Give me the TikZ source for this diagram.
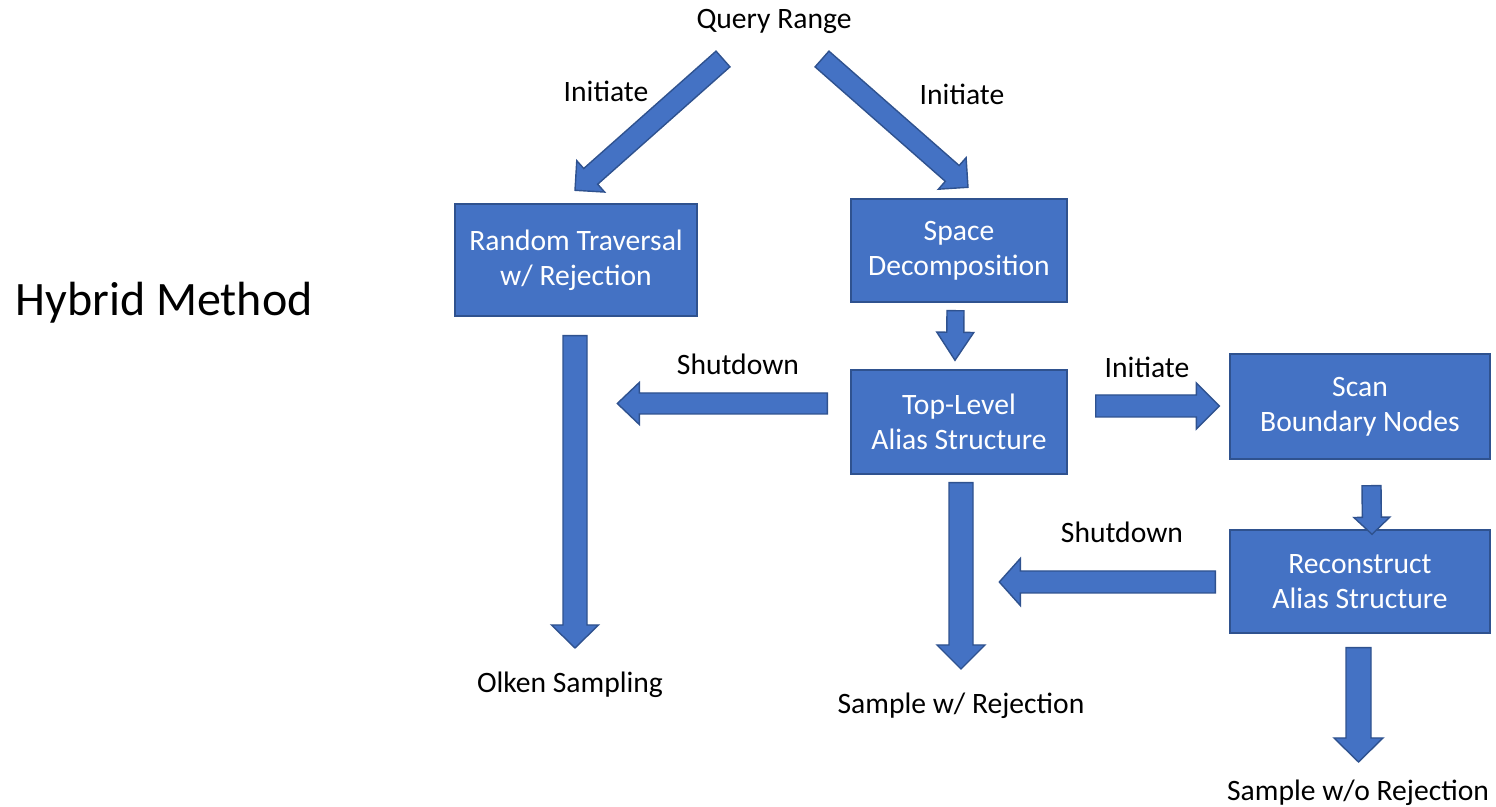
\documentclass[tikz,border=0pt]{standalone}
\usepackage{fontspec}
\setmainfont{Carlito}
\usetikzlibrary{calc}
\definecolor{boxblue}{HTML}{4472C4}
\definecolor{boxedge}{HTML}{2F528F}
\newcommand\txtsize{\fontsize{14.8}{17.5}\selectfont}
\begin{document}
\begin{tikzpicture}[x=.5pt, y=-.5pt, font=\txtsize, line width=.7pt,
    box/.style={draw=boxedge, fill=boxblue, text=white, align=center, inner sep=0pt},
    lbl/.style={inner sep=0pt},
    fat/.style n args={3}{draw=boxedge, fill=boxblue, line join=miter,
      to path={($(\tikztostart)!#1!90:(\tikztotarget)$)
        -- ($($(\tikztotarget)!#3!(\tikztostart)$)!#1!90:(\tikztotarget)$)
        -- ($($(\tikztotarget)!#3!(\tikztostart)$)!#2!90:(\tikztotarget)$)
        -- (\tikztotarget)
        -- ($($(\tikztotarget)!#3!(\tikztostart)$)!#2!-90:(\tikztotarget)$)
        -- ($($(\tikztotarget)!#3!(\tikztostart)$)!#1!-90:(\tikztotarget)$)
        -- ($(\tikztostart)!#1!-90:(\tikztotarget)$) -- cycle}}]
  \useasboundingbox (0,0) rectangle (1496,807);
  % titles and free labels
  \node[lbl, font=\fontsize{24}{28}\selectfont] (hybrid) at (164,303) {Hybrid Method};
  \node[lbl] (query) at (774,21) {Query Range};
  \node[lbl] (ini1) at (606,91) {Initiate};
  \node[lbl] (ini2) at (962,94) {Initiate};
  \node[lbl] (shut1) at (738,364) {Shutdown};
  \node[lbl] (ini3) at (1147,367) {Initiate};
  \node[lbl] (shut2) at (1122,532) {Shutdown};
  \node[lbl] (olken) at (570,685) {Olken Sampling};
  \node[lbl] (samprej) at (961,706) {Sample w/ Rejection};
  \node[lbl] (sampnorej) at (1358,793) {Sample w/o Rejection};
  % boxes
  \node[box, minimum width=121pt, minimum height=56pt] (rand) at (576,260) {Random Traversal\\w/ Rejection};
  \node[box, minimum width=108pt, minimum height=51.5pt] (space) at (959,250.5) {Space\\Decomposition};
  \node[box, minimum width=108pt, minimum height=52pt] (top) at (959,422) {Top-Level\\Alias Structure};
  \node[box, minimum width=130pt, minimum height=52.5pt] (scan) at (1360,406.5) {Scan\\Boundary Nodes};
  \node[box, minimum width=130pt, minimum height=51.5pt] (recon) at (1360,581.5) {Reconstruct\\Alias Structure};
  % block arrows
  \draw[fat={5.25pt}{10.5pt}{10.5pt}] ([shift={(-51,38)}]query.center) to ([shift={(-1,-13)}]rand.north);
  \draw[fat={5.25pt}{10.5pt}{10.5pt}] ([shift={(48,38)}]query.center) to ([shift={(9,-11)}]space.north);
  \draw[fat={6pt}{11.75pt}{11.5pt}] ([shift={(-1,19)}]rand.south) to ([shift={(5,-37)}]olken.center);
  \draw[fat={4.25pt}{9.25pt}{14pt}] ([shift={(-3.5,8)}]space.south) to ([shift={(-4,-9)}]top.north);
  \draw[fat={6pt}{12pt}{12pt}] ([shift={(2,8)}]top.south) to ([shift={(0,-37)}]samprej.center);
  \draw[fat={5.25pt}{10.5pt}{11pt}] ([shift={(-23,-18.5)}]top.west) to ([shift={(-233,-18.5)}]top.west);
  \draw[fat={5.5pt}{11.5pt}{11.5pt}] ([shift={(28,-16)}]top.east) to ([shift={(-10,-0.5)}]scan.west);
  \draw[fat={4.75pt}{9pt}{8.5pt}] ([shift={(11.5,26)}]scan.south) to ([shift={(12,5)}]recon.north);
  \draw[fat={5.5pt}{11.75pt}{10.5pt}] ([shift={(-14,0.5)}]recon.west) to ([shift={(-230,0.5)}]recon.west);
  \draw[fat={6.25pt}{12.25pt}{12pt}] ([shift={(-1.5,14)}]recon.south) to ([shift={(0.5,-31)}]sampnorej.center);
\end{tikzpicture}
\end{document}
